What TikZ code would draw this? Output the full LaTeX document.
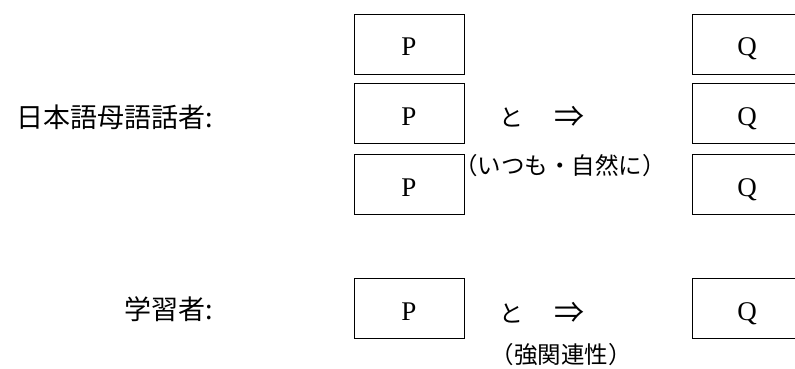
\documentclass[tikz,border=0pt]{standalone}
\usepackage{fontspec}
\setmainfont{Liberation Serif}
\newfontfamily\jfont{Noto Sans CJK JP}
\usetikzlibrary{positioning}

\begin{document}
\begin{tikzpicture}[x=1pt, y=-1pt,
  box/.style={draw, line width=0.9pt, minimum width=110pt, minimum height=60pt,
    inner sep=0pt, text height=24pt, text depth=0pt, font=\fontsize{27}{30}\selectfont},
  who/.style={font=\jfont\fontsize{27}{32}\selectfont, anchor=base east, inner sep=0pt},
  note/.style={font=\jfont\fontsize{23.5}{28}\selectfont, inner sep=0pt},
  conn/.style={font=\jfont\fontsize{24}{28}\selectfont, inner sep=0pt}]
  \useasboundingbox (0,0) rectangle (795,369);
  \clip (0,0) rectangle (795,369);
  % native speakers
  \node[who] (native) at (213,127) {日本語母語話者:};
  \node[box] (p1) at (409,44)  {P};
  \node[box] (p2) at (409,113) {P};
  \node[box] (p3) at (409,184) {P};
  \node[box] (q1) at (747,44)  {Q};
  \node[box] (q2) at (747,113) {Q};
  \node[box] (q3) at (747,184) {Q};
  \node[conn] (to2) at (511,117) {と};
  \node[conn, font=\jfont\fontsize{30}{32}\selectfont] (imp2) at (569,117) {⇒};
  \node[note] (always) at (560,166) {（いつも・自然に）};
  % learners
  \node[who] (learner) at (213,319) {学習者:};
  \node[box] (p4) at (409,308) {P};
  \node[box] (q4) at (747,308) {Q};
  \node[conn] (to4) at (511,313) {と};
  \node[conn, font=\jfont\fontsize{30}{32}\selectfont] (imp4) at (569,313) {⇒};
  \node[note] (strong) at (561,355) {（強関連性）};
\end{tikzpicture}
\end{document}
